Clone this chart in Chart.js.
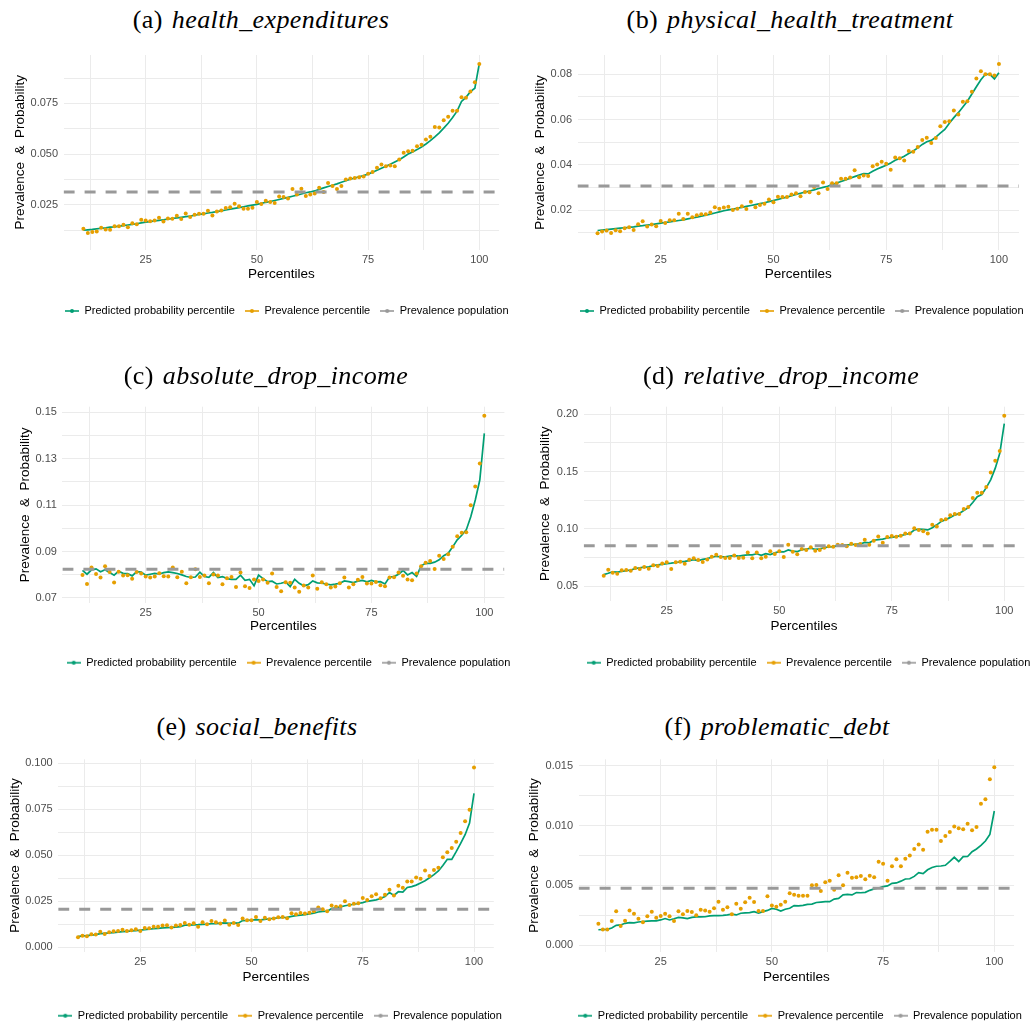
<!DOCTYPE html>
<html>
<head>
<meta charset="utf-8">
<script src="https://cdn.jsdelivr.net/npm/chart.js@4.4.0/dist/chart.umd.min.js"></script>
<style>
  html, body { margin: 0; padding: 0; background: #fff; }
  body { width: 1030px; height: 1021px; position: relative; overflow: hidden; }
  canvas { position: absolute; }
  .title { position: absolute; transform: translate(-50%, -50%); white-space: nowrap; z-index: 2;
           font-family: "Liberation Serif", "Times New Roman", serif; font-size: 26px; letter-spacing: 0.4px; color: #000; }
  .title i { margin-left: 9px; }
</style>
</head>
<body>
<script>
// Percentiles on the x axis
const percentiles = [11, 12, 13, 14, 15, 16, 17, 18, 19, 20,
  21, 22, 23, 24, 25, 26, 27, 28, 29, 30,
  31, 32, 33, 34, 35, 36, 37, 38, 39, 40,
  41, 42, 43, 44, 45, 46, 47, 48, 49, 50,
  51, 52, 53, 54, 55, 56, 57, 58, 59, 60,
  61, 62, 63, 64, 65, 66, 67, 68, 69, 70,
  71, 72, 73, 74, 75, 76, 77, 78, 79, 80,
  81, 82, 83, 84, 85, 86, 87, 88, 89, 90,
  91, 92, 93, 94, 95, 96, 97, 98, 99, 100];
const xMajor = [25, 50, 75, 100];
const xMinor = [12.5, 37.5, 62.5, 87.5];

// (a) health_expenditures
const healthPrev = [0.0131, 0.0110, 0.0115, 0.0118, 0.0136, 0.0128, 0.0126, 0.0144, 0.0144, 0.0151,
  0.0139, 0.0159, 0.0154, 0.0176, 0.0172, 0.0169, 0.0172, 0.0186, 0.0167, 0.0182,
  0.0181, 0.0196, 0.0179, 0.0207, 0.0189, 0.0200, 0.0205, 0.0205, 0.0220, 0.0197,
  0.0217, 0.0222, 0.0234, 0.0237, 0.0255, 0.0243, 0.0230, 0.0230, 0.0235, 0.0263,
  0.0253, 0.0270, 0.0263, 0.0258, 0.0291, 0.0288, 0.0281, 0.0328, 0.0301, 0.0329,
  0.0293, 0.0301, 0.0306, 0.0334, 0.0313, 0.0357, 0.0342, 0.0328, 0.0342, 0.0374,
  0.0379, 0.0382, 0.0385, 0.0389, 0.0403, 0.0412, 0.0432, 0.0448, 0.0440, 0.0443,
  0.0440, 0.0473, 0.0506, 0.0514, 0.0516, 0.0539, 0.0546, 0.0572, 0.0585, 0.0634,
  0.0631, 0.0667, 0.0684, 0.0714, 0.0714, 0.0780, 0.0778, 0.0809, 0.0854, 0.0945];
const healthPred = [0.0124, 0.0126, 0.0128, 0.0131, 0.0134, 0.0136, 0.0139, 0.0141, 0.0144, 0.0147,
  0.0150, 0.0153, 0.0156, 0.0160, 0.0164, 0.0167, 0.0170, 0.0173, 0.0176, 0.0179,
  0.0182, 0.0185, 0.0188, 0.0191, 0.0194, 0.0198, 0.0202, 0.0205, 0.0209, 0.0212,
  0.0216, 0.0220, 0.0224, 0.0228, 0.0232, 0.0236, 0.0240, 0.0244, 0.0248, 0.0252,
  0.0257, 0.0262, 0.0266, 0.0271, 0.0276, 0.0281, 0.0286, 0.0292, 0.0297, 0.0303,
  0.0309, 0.0313, 0.0318, 0.0326, 0.0333, 0.0340, 0.0346, 0.0353, 0.0361, 0.0368,
  0.0376, 0.0382, 0.0388, 0.0394, 0.0401, 0.0410, 0.0420, 0.0430, 0.0440, 0.0450,
  0.0461, 0.0472, 0.0486, 0.0500, 0.0510, 0.0522, 0.0535, 0.0550, 0.0566, 0.0585,
  0.0605, 0.0628, 0.0652, 0.0680, 0.0712, 0.0760, 0.0780, 0.0808, 0.0825, 0.0946];
const healthPop = 0.0313;
const healthYMajor = [0.025, 0.05, 0.075];
const healthYLabels = ['0.025', '0.050', '0.075'];
const healthYMinor = [0.0125, 0.0375, 0.0625, 0.0875];

// (b) physical_health_treatment
const physicalPrev = [0.0099, 0.0106, 0.0111, 0.0100, 0.0112, 0.0108, 0.0121, 0.0125, 0.0113, 0.0138,
  0.0152, 0.0128, 0.0137, 0.0130, 0.0153, 0.0144, 0.0156, 0.0156, 0.0185, 0.0162,
  0.0185, 0.0169, 0.0178, 0.0182, 0.0182, 0.0190, 0.0213, 0.0207, 0.0212, 0.0215,
  0.0201, 0.0207, 0.0218, 0.0206, 0.0238, 0.0213, 0.0223, 0.0229, 0.0247, 0.0235,
  0.0260, 0.0259, 0.0259, 0.0269, 0.0275, 0.0262, 0.0281, 0.0279, 0.0303, 0.0275,
  0.0322, 0.0294, 0.0319, 0.0319, 0.0339, 0.0339, 0.0344, 0.0376, 0.0345, 0.0353,
  0.0351, 0.0394, 0.0402, 0.0414, 0.0405, 0.0379, 0.0432, 0.0429, 0.0419, 0.0461,
  0.0458, 0.0479, 0.0510, 0.0520, 0.0496, 0.0518, 0.0570, 0.0589, 0.0592, 0.0640,
  0.0622, 0.0678, 0.0680, 0.0722, 0.0781, 0.0812, 0.0799, 0.0799, 0.0794, 0.0844];
const physicalPred = [0.0111, 0.0113, 0.0115, 0.0117, 0.0119, 0.0121, 0.0123, 0.0125, 0.0127, 0.0130,
  0.0132, 0.0135, 0.0137, 0.0140, 0.0143, 0.0146, 0.0149, 0.0152, 0.0155, 0.0158,
  0.0162, 0.0166, 0.0170, 0.0174, 0.0178, 0.0183, 0.0188, 0.0193, 0.0198, 0.0202,
  0.0205, 0.0209, 0.0213, 0.0217, 0.0221, 0.0225, 0.0229, 0.0233, 0.0238, 0.0243,
  0.0248, 0.0253, 0.0258, 0.0264, 0.0270, 0.0275, 0.0280, 0.0285, 0.0290, 0.0296,
  0.0301, 0.0306, 0.0313, 0.0320, 0.0327, 0.0334, 0.0341, 0.0348, 0.0355, 0.0362,
  0.0360, 0.0372, 0.0382, 0.0390, 0.0398, 0.0408, 0.0420, 0.0428, 0.0438, 0.0450,
  0.0461, 0.0475, 0.0490, 0.0502, 0.0508, 0.0522, 0.0540, 0.0556, 0.0583, 0.0608,
  0.0630, 0.0655, 0.0680, 0.0712, 0.0744, 0.0775, 0.0799, 0.0799, 0.0779, 0.0806];
const physicalPop = 0.0307;
const physicalYMajor = [0.02, 0.04, 0.06, 0.08];
const physicalYLabels = ['0.02', '0.04', '0.06', '0.08'];
const physicalYMinor = [0.01, 0.03, 0.05, 0.07];

// (c) absolute_drop_income
const absDropPrev = [0.0799, 0.0760, 0.0831, 0.0803, 0.0788, 0.0836, 0.0812, 0.0766, 0.0813, 0.0796,
  0.0798, 0.0782, 0.0812, 0.0805, 0.0792, 0.0788, 0.0792, 0.0806, 0.0793, 0.0792,
  0.0831, 0.0789, 0.0813, 0.0763, 0.0789, 0.0823, 0.0790, 0.0796, 0.0763, 0.0801,
  0.0796, 0.0759, 0.0785, 0.0790, 0.0747, 0.0809, 0.0750, 0.0743, 0.0779, 0.0773,
  0.0779, 0.0765, 0.0805, 0.0747, 0.0729, 0.0767, 0.0765, 0.0745, 0.0727, 0.0753,
  0.0745, 0.0796, 0.0739, 0.0767, 0.0759, 0.0745, 0.0749, 0.0763, 0.0788, 0.0745,
  0.0759, 0.0778, 0.0790, 0.0762, 0.0762, 0.0769, 0.0755, 0.0750, 0.0788, 0.0789,
  0.0809, 0.0795, 0.0779, 0.0776, 0.0805, 0.0836, 0.0852, 0.0859, 0.0825, 0.0882,
  0.0868, 0.0888, 0.0920, 0.0966, 0.0981, 0.0983, 0.1099, 0.1180, 0.1279, 0.1485];
const absDropPred = [0.0819, 0.0802, 0.0821, 0.0825, 0.0813, 0.0821, 0.0809, 0.0798, 0.0815, 0.0806,
  0.0805, 0.0795, 0.0813, 0.0811, 0.0798, 0.0802, 0.0806, 0.0803, 0.0809, 0.0812,
  0.0809, 0.0805, 0.0799, 0.0792, 0.0788, 0.0790, 0.0811, 0.0792, 0.0789, 0.0809,
  0.0788, 0.0792, 0.0783, 0.0780, 0.0780, 0.0798, 0.0776, 0.0780, 0.0752, 0.0798,
  0.0783, 0.0770, 0.0772, 0.0760, 0.0763, 0.0769, 0.0749, 0.0780, 0.0763, 0.0752,
  0.0757, 0.0773, 0.0765, 0.0763, 0.0760, 0.0756, 0.0759, 0.0763, 0.0773, 0.0770,
  0.0766, 0.0772, 0.0775, 0.0769, 0.0775, 0.0769, 0.0770, 0.0760, 0.0790, 0.0792,
  0.0802, 0.0818, 0.0799, 0.0809, 0.0793, 0.0838, 0.0849, 0.0849, 0.0854, 0.0864,
  0.0882, 0.0892, 0.0920, 0.0950, 0.0970, 0.0993, 0.1050, 0.1122, 0.1208, 0.1409];
const absDropPop = 0.0823;
const absDropYMajor = [0.07, 0.09, 0.11, 0.13, 0.15];
const absDropYLabels = ['0.07', '0.09', '0.11', '0.13', '0.15'];
const absDropYMinor = [0.08, 0.10, 0.12, 0.14];

// (d) relative_drop_income
const relDropPrev = [0.0590, 0.0643, 0.0617, 0.0608, 0.0637, 0.0640, 0.0634, 0.0657, 0.0649, 0.0666,
  0.0651, 0.0681, 0.0675, 0.0698, 0.0707, 0.0649, 0.0707, 0.0713, 0.0695, 0.0730,
  0.0742, 0.0727, 0.0710, 0.0733, 0.0756, 0.0774, 0.0753, 0.0745, 0.0745, 0.0768,
  0.0745, 0.0748, 0.0794, 0.0742, 0.0794, 0.0742, 0.0756, 0.0803, 0.0780, 0.0803,
  0.0753, 0.0861, 0.0800, 0.0777, 0.0823, 0.0815, 0.0838, 0.0809, 0.0815, 0.0835,
  0.0847, 0.0844, 0.0861, 0.0858, 0.0847, 0.0870, 0.0858, 0.0867, 0.0905, 0.0861,
  0.0896, 0.0934, 0.0879, 0.0928, 0.0937, 0.0931, 0.0940, 0.0960, 0.0960, 0.1004,
  0.0989, 0.0978, 0.0960, 0.1036, 0.1021, 0.1077, 0.1083, 0.1118, 0.1129, 0.1129,
  0.1173, 0.1190, 0.1269, 0.1316, 0.1316, 0.1365, 0.1493, 0.1595, 0.1680, 0.1989];
const relDropPred = [0.0600, 0.0612, 0.0625, 0.0622, 0.0627, 0.0635, 0.0640, 0.0652, 0.0660, 0.0665,
  0.0668, 0.0678, 0.0685, 0.0690, 0.0695, 0.0700, 0.0706, 0.0712, 0.0716, 0.0722,
  0.0730, 0.0722, 0.0733, 0.0740, 0.0752, 0.0760, 0.0756, 0.0755, 0.0762, 0.0765,
  0.0762, 0.0768, 0.0773, 0.0772, 0.0782, 0.0768, 0.0783, 0.0775, 0.0790, 0.0800,
  0.0798, 0.0815, 0.0805, 0.0800, 0.0818, 0.0822, 0.0830, 0.0820, 0.0825, 0.0835,
  0.0842, 0.0845, 0.0853, 0.0855, 0.0860, 0.0862, 0.0865, 0.0868, 0.0882, 0.0878,
  0.0900, 0.0905, 0.0910, 0.0920, 0.0925, 0.0932, 0.0940, 0.0950, 0.0960, 0.0990,
  0.0998, 0.0995, 0.0990, 0.1010, 0.1035, 0.1065, 0.1080, 0.1100, 0.1120, 0.1135,
  0.1160, 0.1185, 0.1230, 0.1280, 0.1300, 0.1360, 0.1430, 0.1530, 0.1660, 0.1920];
const relDropPop = 0.0852;
const relDropYMajor = [0.05, 0.10, 0.15, 0.20];
const relDropYLabels = ['0.05', '0.10', '0.15', '0.20'];
const relDropYMinor = [0.075, 0.125, 0.175];

// (e) social_benefits
const socialPrev = [0.0054, 0.0063, 0.0060, 0.0071, 0.0069, 0.0085, 0.0072, 0.0082, 0.0087, 0.0089,
  0.0096, 0.0089, 0.0092, 0.0098, 0.0089, 0.0105, 0.0103, 0.0112, 0.0112, 0.0118,
  0.0120, 0.0107, 0.0118, 0.0121, 0.0132, 0.0123, 0.0130, 0.0112, 0.0136, 0.0125,
  0.0143, 0.0136, 0.0129, 0.0145, 0.0123, 0.0132, 0.0121, 0.0156, 0.0147, 0.0147,
  0.0165, 0.0143, 0.0161, 0.0152, 0.0156, 0.0163, 0.0165, 0.0158, 0.0185, 0.0179,
  0.0187, 0.0183, 0.0188, 0.0196, 0.0216, 0.0207, 0.0196, 0.0227, 0.0221, 0.0223,
  0.0250, 0.0230, 0.0237, 0.0239, 0.0268, 0.0257, 0.0277, 0.0288, 0.0266, 0.0286,
  0.0313, 0.0281, 0.0335, 0.0324, 0.0357, 0.0357, 0.0379, 0.0373, 0.0417, 0.0388,
  0.0420, 0.0433, 0.0489, 0.0516, 0.0540, 0.0574, 0.0622, 0.0685, 0.0748, 0.0978];
const socialPred = [0.0058, 0.0062, 0.0063, 0.0066, 0.0069, 0.0074, 0.0076, 0.0078, 0.0080, 0.0082,
  0.0085, 0.0087, 0.0089, 0.0091, 0.0093, 0.0096, 0.0099, 0.0101, 0.0103, 0.0105,
  0.0107, 0.0108, 0.0110, 0.0112, 0.0120, 0.0121, 0.0122, 0.0123, 0.0125, 0.0126,
  0.0128, 0.0129, 0.0131, 0.0133, 0.0130, 0.0133, 0.0131, 0.0145, 0.0146, 0.0148,
  0.0150, 0.0149, 0.0152, 0.0155, 0.0158, 0.0160, 0.0162, 0.0163, 0.0168, 0.0172,
  0.0175, 0.0178, 0.0182, 0.0186, 0.0192, 0.0195, 0.0196, 0.0210, 0.0215, 0.0220,
  0.0226, 0.0230, 0.0234, 0.0238, 0.0243, 0.0250, 0.0254, 0.0258, 0.0265, 0.0276,
  0.0298, 0.0282, 0.0302, 0.0300, 0.0325, 0.0330, 0.0338, 0.0350, 0.0362, 0.0378,
  0.0395, 0.0415, 0.0445, 0.0478, 0.0478, 0.0520, 0.0565, 0.0612, 0.0675, 0.0837];
const socialPop = 0.0207;
const socialYMajor = [0, 0.025, 0.05, 0.075, 0.1];
const socialYLabels = ['0.000', '0.025', '0.050', '0.075', '0.100'];
const socialYMinor = [0.0125, 0.0375, 0.0625, 0.0875];

// (f) problematic_debt
const debtPrev = [0.00179, 0.00131, 0.00131, 0.00201, 0.00282, 0.00159, 0.00204, 0.00290, 0.00263, 0.00221,
  0.00190, 0.00240, 0.00279, 0.00229, 0.00243, 0.00263, 0.00240, 0.00201, 0.00282, 0.00257,
  0.00285, 0.00277, 0.00249, 0.00296, 0.00290, 0.00279, 0.00307, 0.00363, 0.00296, 0.00316,
  0.00257, 0.00346, 0.00304, 0.00358, 0.00397, 0.00360, 0.00285, 0.00285, 0.00408, 0.00332,
  0.00321, 0.00338, 0.00363, 0.00433, 0.00422, 0.00413, 0.00413, 0.00413, 0.00500, 0.00503,
  0.00452, 0.00525, 0.00539, 0.00464, 0.00584, 0.00500, 0.00606, 0.00564, 0.00567, 0.00578,
  0.00550, 0.00581, 0.00567, 0.00698, 0.00681, 0.00539, 0.00659, 0.00718, 0.00659, 0.00723,
  0.00751, 0.00804, 0.00843, 0.00799, 0.00950, 0.00966, 0.00966, 0.00871, 0.00913, 0.00947,
  0.00992, 0.00978, 0.00969, 0.01017, 0.00961, 0.00989, 0.01184, 0.01221, 0.01388, 0.01489];
const debtPred = [0.00128, 0.00130, 0.00131, 0.00142, 0.00165, 0.00168, 0.00182, 0.00188, 0.00186, 0.00193,
  0.00197, 0.00200, 0.00202, 0.00203, 0.00210, 0.00222, 0.00210, 0.00220, 0.00232, 0.00228,
  0.00222, 0.00232, 0.00236, 0.00235, 0.00237, 0.00244, 0.00246, 0.00246, 0.00248, 0.00252,
  0.00258, 0.00252, 0.00266, 0.00270, 0.00271, 0.00280, 0.00268, 0.00280, 0.00290, 0.00307,
  0.00300, 0.00285, 0.00300, 0.00308, 0.00330, 0.00328, 0.00332, 0.00340, 0.00343, 0.00356,
  0.00360, 0.00363, 0.00363, 0.00385, 0.00391, 0.00420, 0.00424, 0.00420, 0.00440, 0.00438,
  0.00441, 0.00458, 0.00470, 0.00478, 0.00489, 0.00495, 0.00517, 0.00520, 0.00535, 0.00553,
  0.00555, 0.00575, 0.00606, 0.00598, 0.00630, 0.00650, 0.00660, 0.00662, 0.00668, 0.00700,
  0.00735, 0.00700, 0.00740, 0.00742, 0.00782, 0.00805, 0.00835, 0.00871, 0.00927, 0.01123];
const debtPop = 0.00475;
const debtYMajor = [0, 0.005, 0.01, 0.015];
const debtYLabels = ['0.000', '0.005', '0.010', '0.015'];
const debtYMinor = [0.0025, 0.0075, 0.0125];

// Styling
const SANS = '"Liberation Sans", Arial, Helvetica, sans-serif';
const GREEN = '#009E73';
const ORANGE = '#E69F00';
const GREY = '#999999';
const GRID = '#ebebeb';
const X_MIN = 6.55;
const X_MAX = 104.45;
const TITLE_SIZE = 13.5;
const TITLE_LH = TITLE_SIZE * 1.2;
const LEGEND_H = 20;
const LEGEND_PAD = 10;
const LEGEND_FONT = 11;

// Panel layout (page pixels)
const panels = [
  { tag: '(a)', name: 'health_expenditures', pred: healthPred, prev: healthPrev, pop: healthPop,
    yMin: 0.0029, yMax: 0.0989, yMajor: healthYMajor, yLabels: healthYLabels, yMinor: healthYMinor,
    cx: 0, cy: 40, w: 515, h: 290, plot: { l: 63.6, r: 499.1, t: 55, b: 249.5 },
    xTitleY: 274, yTitleX: 20, legendX: 65, legendY: 311, titleX: 261, titleY: 20 },
  { tag: '(b)', name: 'physical_health_treatment', pred: physicalPred, prev: physicalPrev, pop: physicalPop,
    yMin: 0.0025, yMax: 0.0884, yMajor: physicalYMajor, yLabels: physicalYLabels, yMinor: physicalYMinor,
    cx: 515, cy: 40, w: 515, h: 290, plot: { l: 577.5, r: 1019, t: 55, b: 250 },
    xTitleY: 274, yTitleX: 540, legendX: 580, legendY: 311, titleX: 790, titleY: 20 },
  { tag: '(c)', name: 'absolute_drop_income', pred: absDropPred, prev: absDropPrev, pop: absDropPop,
    yMin: 0.0678, yMax: 0.1524, yMajor: absDropYMajor, yLabels: absDropYLabels, yMinor: absDropYMinor,
    cx: 0, cy: 390, w: 515, h: 295, plot: { l: 62.4, r: 504.4, t: 406.7, b: 603 },
    xTitleY: 626, yTitleX: 25, legendX: 66.7, legendY: 662.7, titleX: 266, titleY: 376 },
  { tag: '(d)', name: 'relative_drop_income', pred: relDropPred, prev: relDropPrev, pop: relDropPop,
    yMin: 0.0372, yMax: 0.2067, yMajor: relDropYMajor, yLabels: relDropYLabels, yMinor: relDropYMinor,
    cx: 515, cy: 390, w: 515, h: 295, plot: { l: 583.7, r: 1024.3, t: 406.7, b: 600.7 },
    xTitleY: 626, yTitleX: 545, legendX: 586.7, legendY: 662.7, titleX: 781, titleY: 376 },
  { tag: '(e)', name: 'social_benefits', pred: socialPred, prev: socialPrev, pop: socialPop,
    yMin: -0.0024, yMax: 0.1022, yMajor: socialYMajor, yLabels: socialYLabels, yMinor: socialYMinor,
    cx: 0, cy: 745, w: 515, h: 276, plot: { l: 58.2, r: 493.8, t: 759.3, b: 951.7 },
    xTitleY: 977.3, yTitleX: 15, legendX: 58.3, legendY: 1015.7, titleX: 257, titleY: 727 },
  { tag: '(f)', name: 'problematic_debt', pred: debtPred, prev: debtPrev, pop: debtPop,
    yMin: -0.00056, yMax: 0.01556, yMajor: debtYMajor, yLabels: debtYLabels, yMinor: debtYMinor,
    cx: 515, cy: 745, w: 515, h: 276, plot: { l: 578.6, r: 1014.1, t: 759.3, b: 951.7 },
    xTitleY: 977.3, yTitleX: 534.3, legendX: 578.3, legendY: 1015.7, titleX: 777, titleY: 727 }
];

// Legend key: short line with a dot, like the ggplot keys
function keyGlyph(color) {
  const c = document.createElement('canvas');
  c.width = 14; c.height = 6;
  const g = c.getContext('2d');
  g.strokeStyle = color; g.lineWidth = 1.6;
  g.beginPath(); g.moveTo(0, 3); g.lineTo(14, 3); g.stroke();
  g.fillStyle = color;
  g.beginPath(); g.arc(7, 3, 2, 0, Math.PI * 2); g.fill();
  return c;
}
const keyItems = [
  { text: 'Predicted probability percentile', pointStyle: keyGlyph(GREEN), fillStyle: GREEN, strokeStyle: GREEN, lineWidth: 0, hidden: false, datasetIndex: 2 },
  { text: 'Prevalence percentile', pointStyle: keyGlyph(ORANGE), fillStyle: ORANGE, strokeStyle: ORANGE, lineWidth: 0, hidden: false, datasetIndex: 1 },
  { text: 'Prevalence population', pointStyle: keyGlyph(GREY), fillStyle: GREY, strokeStyle: GREY, lineWidth: 0, hidden: false, datasetIndex: 0 }
];

// Moves the legend row under the panel like in the figure
const placeLegend = {
  id: 'placeLegend',
  afterLayout(chart, args, opts) {
    const lg = chart.legend;
    if (!lg) return;
    lg.left = opts.x - LEGEND_PAD;
    lg.right = lg.left + 700;
    lg.top = opts.y - LEGEND_PAD - LEGEND_FONT / 2;
    lg.bottom = lg.top + LEGEND_H;
  }
};

function makePanel(p) {
  const title = document.createElement('div');
  title.className = 'title';
  title.style.left = p.titleX + 'px';
  title.style.top = p.titleY + 'px';
  title.innerHTML = p.tag + '<i>' + p.name + '</i>';
  document.body.appendChild(title);

  const canvas = document.createElement('canvas');
  canvas.width = p.w; canvas.height = p.h;
  canvas.style.left = p.cx + 'px';
  canvas.style.top = p.cy + 'px';
  document.body.appendChild(canvas);

  const xAxisH = p.xTitleY + TITLE_LH / 2 - p.plot.b;
  const pad = {
    left: 0,
    top: p.plot.t - p.cy,
    right: p.cx + p.w - p.plot.r,
    bottom: p.cy + p.h - (p.plot.b + xAxisH + LEGEND_H)
  };
  const yTicks = p.yMinor.concat(p.yMajor).sort((a, b) => a - b);
  const xTicks = xMinor.concat(xMajor).sort((a, b) => a - b);

  new Chart(canvas, {
    type: 'line',
    data: {
      datasets: [{
        label: 'Prevalence population',
        data: [{ x: X_MIN, y: p.pop }, { x: X_MAX, y: p.pop }],
        borderColor: GREY,
        borderWidth: 3,
        borderDash: [11, 10],
        pointRadius: 0
      }, {
        label: 'Prevalence percentile',
        data: percentiles.map((v, i) => ({ x: v, y: p.prev[i] })),
        showLine: false,
        pointRadius: 2,
        pointBackgroundColor: ORANGE,
        pointBorderWidth: 0
      }, {
        label: 'Predicted probability percentile',
        data: percentiles.map((v, i) => ({ x: v, y: p.pred[i] })),
        borderColor: GREEN,
        borderWidth: 1.7,
        pointRadius: 0,
        tension: 0
      }]
    },
    options: {
      responsive: false,
      animation: false,
      devicePixelRatio: 1,
      layout: { padding: pad },
      plugins: {
        tooltip: { enabled: false },
        placeLegend: { x: p.legendX - p.cx, y: p.legendY - p.cy },
        legend: {
          position: 'bottom',
          align: 'start',
          maxHeight: LEGEND_H,
          labels: {
            usePointStyle: true,
            pointStyleWidth: 14,
            padding: LEGEND_PAD,
            color: '#1a1a1a',
            font: { family: SANS, size: LEGEND_FONT },
            generateLabels: () => keyItems
          }
        }
      },
      scales: {
        x: {
          type: 'linear',
          min: X_MIN,
          max: X_MAX,
          afterBuildTicks: axis => { axis.ticks = xTicks.map(v => ({ value: v })); },
          afterFit: axis => { axis.height = xAxisH; },
          ticks: {
            autoSkip: false,
            maxRotation: 0,
            padding: 3.5,
            color: '#4d4d4d',
            font: { family: SANS, size: 11 },
            callback: v => xMajor.includes(v) ? String(v) : ''
          },
          grid: { drawTicks: false, lineWidth: 1, color: GRID },
          border: { display: false },
          title: {
            display: true,
            text: 'Percentiles',
            color: '#000',
            font: { family: SANS, size: TITLE_SIZE },
            padding: { top: 0, bottom: 0 }
          }
        },
        y: {
          type: 'linear',
          min: p.yMin,
          max: p.yMax,
          afterBuildTicks: axis => { axis.ticks = yTicks.map(v => ({ value: v })); },
          afterFit: axis => { axis.width = p.plot.l - p.cx; },
          ticks: {
            autoSkip: false,
            padding: 5.5,
            color: '#4d4d4d',
            font: { family: SANS, size: 11 },
            callback: v => {
              const i = p.yMajor.indexOf(v);
              return i < 0 ? '' : p.yLabels[i];
            }
          },
          grid: { drawTicks: false, lineWidth: 1, color: GRID },
          border: { display: false },
          title: {
            display: true,
            text: 'Prevalence  &  Probability',
            color: '#000',
            font: { family: SANS, size: TITLE_SIZE },
            padding: { top: p.yTitleX - p.cx - TITLE_LH / 2, bottom: 0 }
          }
        }
      }
    },
    plugins: [placeLegend]
  });
}

panels.forEach(makePanel);
</script>
</body>
</html>
